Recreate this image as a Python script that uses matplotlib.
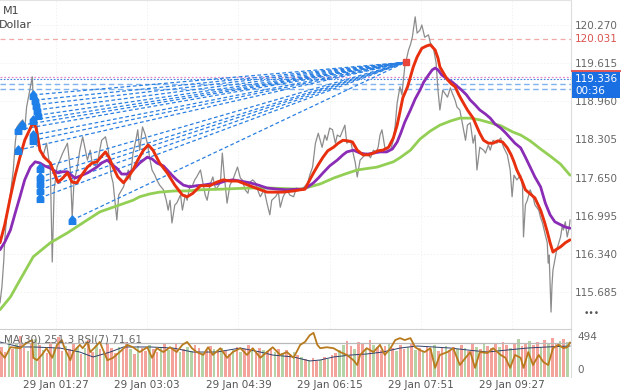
import numpy as np
import matplotlib
matplotlib.use("Agg")
import matplotlib.pyplot as plt
from matplotlib.path import Path
from matplotlib.patches import Rectangle
from matplotlib.lines import Line2D
import matplotlib.transforms as mtrans

# ---------------- data (time in minutes after 29 Jan 00:00, price in JPY) -------------
price_ticks = [120.270, 119.615, 118.960, 118.305, 117.650, 116.995, 116.340, 115.685]
time_ticks = [87, 183, 279, 375, 471, 567]
time_labels = ["29 Jan 01:27", "29 Jan 03:03", "29 Jan 04:39",
               "29 Jan 06:15", "29 Jan 07:51", "29 Jan 09:27"]

gray_t = [28, 30, 32, 33, 35, 39, 42, 44, 46, 49, 52, 54, 56, 60, 62, 63, 65, 67, 70, 73,
          77, 81, 83, 85, 88, 91, 94, 99, 102, 104, 106, 109, 112, 115, 120, 123, 125, 130, 133, 135,
          139, 142, 145, 147, 151, 153, 158, 163, 165, 168, 171, 173, 175, 178, 181, 183, 186, 188, 191, 193,
          196, 200, 203, 205, 207, 209, 212, 214, 218, 220, 223, 225, 228, 230, 233, 235, 239, 242, 244, 246,
          249, 252, 255, 260, 262, 264, 267, 270, 273, 278, 281, 283, 286, 289, 291, 294, 297, 300, 302, 306,
          309, 312, 314, 318, 321, 323, 326, 330, 333, 337, 340, 342, 347, 350, 352, 354, 357, 360, 363, 365,
          367, 370, 372, 375, 378, 381, 383, 386, 389, 391, 393, 397, 399, 402, 404, 407, 410, 414, 418, 421,
          424, 426, 428, 430, 433, 435, 439, 442, 444, 446, 449, 451, 454, 458, 460, 462, 465, 467, 470, 472,
          475, 479, 481, 484, 487, 489, 491, 494, 499, 502, 504, 507, 509, 512, 514, 518, 520, 523, 526, 528,
          530, 533, 537, 539, 542, 544, 547, 551, 555, 558, 562, 565, 567, 569, 572, 576, 578, 579, 581, 583,
          586, 589, 591, 595, 597, 599, 602, 604, 605, 606, 607, 608, 609, 610, 612, 614, 618, 620, 621, 623,
          625, 627, 628]
gray_p = [115.50, 115.77, 116.23, 116.58, 116.97, 117.38, 117.78, 118.24, 118.52, 118.59, 118.64, 118.47, 118.86, 119.21, 119.38, 118.98, 118.93, 118.52, 118.17, 118.00,
          118.24, 117.78, 116.20, 117.44, 117.83, 117.95, 118.07, 118.24, 117.78, 116.97, 117.61, 117.78, 118.12, 118.35, 117.95, 118.12, 117.90, 117.83, 118.12, 118.29,
          118.35, 118.12, 117.69, 117.56, 116.92, 117.35, 117.49, 117.78, 117.61, 118.07, 118.29, 118.47, 118.12, 118.52, 118.38, 118.24, 117.95, 117.78, 117.69, 117.61,
          117.52, 117.44, 117.26, 117.09, 117.26, 116.87, 117.18, 117.21, 117.35, 117.09, 117.35, 117.26, 117.52, 117.49, 117.61, 117.66, 117.78, 117.52, 117.35, 117.26,
          117.52, 117.66, 117.44, 117.56, 118.07, 117.69, 117.21, 117.52, 117.61, 117.83, 117.64, 117.61, 117.44, 117.38, 117.57, 117.61, 117.56, 117.40, 117.32, 117.44,
          117.21, 117.01, 117.26, 117.32, 117.40, 117.14, 117.32, 117.44, 117.35, 117.32, 117.47, 117.44, 117.47, 117.52, 117.56, 117.69, 117.83, 118.24, 118.41, 118.29,
          118.17, 118.38, 118.29, 118.50, 118.47, 118.24, 118.38, 118.35, 118.47, 118.55, 118.24, 118.29, 118.12, 117.90, 117.66, 117.95, 118.00, 118.07, 117.99, 118.12,
          118.09, 118.17, 118.38, 118.47, 118.17, 118.12, 118.12, 118.29, 118.55, 118.93, 119.21, 119.07, 119.55, 119.84, 119.93, 120.06, 120.41, 120.13, 120.18, 120.27,
          120.06, 120.10, 119.96, 119.89, 119.62, 119.15, 118.81, 119.15, 119.03, 119.19, 119.10, 118.98, 118.86, 118.81, 118.64, 118.29, 118.55, 118.59, 118.24, 118.38,
          117.78, 118.17, 118.12, 118.07, 118.21, 118.12, 118.29, 118.24, 118.33, 118.17, 118.04, 117.78, 117.32, 117.69, 117.61, 117.69, 117.49, 116.63, 117.18, 117.26,
          117.44, 117.32, 117.18, 117.09, 116.96, 116.87, 116.66, 116.53, 116.18, 116.32, 115.84, 115.34, 115.80, 116.06, 116.23, 116.41, 116.63, 116.84, 116.75, 116.89,
          116.63, 116.78, 116.92]

red_t = [28, 33, 39, 44, 49, 54, 60, 63, 66, 70, 75, 81, 86, 89, 94, 99, 104, 109, 114, 120,
         125, 130, 134, 139, 143, 147, 152, 158, 163, 168, 173, 179, 184, 189, 196, 204, 212, 220, 225, 231,
         239, 249, 256, 263, 270, 278, 286, 294, 302, 309, 318, 326, 337, 344, 349, 354, 358, 363, 368, 373,
         379, 384, 389, 394, 399, 404, 410, 416, 421, 426, 431, 437, 442, 446, 449, 452, 457, 460, 463, 467,
         472, 477, 481, 486, 489, 491, 496, 499, 503, 507, 511, 514, 520, 526, 530, 533, 537, 542, 547, 552,
         557, 562, 566, 569, 572, 577, 581, 586, 591, 597, 601, 604, 607, 610, 613, 618, 623, 628]
red_p = [116.53, 116.84, 117.32, 117.69, 118.00, 118.29, 118.50, 118.60, 118.50, 118.12, 117.99, 117.90, 117.69, 117.57, 117.64, 117.73, 117.57, 117.56, 117.69, 117.83,
         117.90, 117.92, 118.00, 118.09, 117.99, 117.83, 117.66, 117.56, 117.66, 117.78, 117.95, 118.12, 118.21, 118.12, 117.90, 117.73, 117.52, 117.35, 117.32, 117.38,
         117.51, 117.51, 117.57, 117.61, 117.59, 117.59, 117.54, 117.49, 117.44, 117.40, 117.40, 117.40, 117.42, 117.44, 117.45, 117.61, 117.73, 117.87, 118.00, 118.11,
         118.17, 118.24, 118.29, 118.28, 118.26, 118.12, 118.04, 118.04, 118.07, 118.11, 118.12, 118.17, 118.33, 118.55, 118.78, 119.02, 119.21, 119.38, 119.55, 119.72,
         119.87, 119.91, 119.93, 119.84, 119.70, 119.55, 119.41, 119.33, 119.26, 119.21, 119.07, 118.98, 118.81, 118.67, 118.52, 118.41, 118.29, 118.24, 118.24, 118.28,
         118.26, 118.16, 118.04, 117.92, 117.78, 117.61, 117.44, 117.37, 117.30, 117.09, 116.89, 116.72, 116.53, 116.37, 116.41, 116.46, 116.53, 116.58]

purple_t = [28, 33, 39, 44, 49, 54, 60, 65, 70, 75, 81, 89, 94, 99, 107, 113, 120, 125, 130, 135,
            141, 146, 151, 156, 162, 168, 175, 183, 188, 193, 200, 204, 209, 214, 221, 228, 235, 242, 249, 256,
            265, 273, 281, 291, 300, 309, 320, 330, 341, 347, 352, 358, 363, 368, 375, 383, 389, 393, 400, 407,
            414, 421, 428, 435, 441, 446, 450, 454, 460, 465, 470, 474, 479, 483, 486, 489, 493, 499, 504, 509,
            514, 519, 523, 528, 533, 539, 544, 549, 555, 560, 565, 570, 576, 581, 586, 591, 597, 602, 607, 612,
            618, 623, 628]
purple_p = [116.41, 116.54, 116.75, 117.04, 117.32, 117.61, 117.83, 117.92, 117.90, 117.85, 117.81, 117.73, 117.75, 117.75, 117.64, 117.68, 117.73, 117.78, 117.83, 117.90,
            117.95, 117.87, 117.81, 117.71, 117.71, 117.78, 117.90, 118.00, 117.97, 117.90, 117.85, 117.78, 117.69, 117.61, 117.52, 117.49, 117.51, 117.52, 117.54, 117.54,
            117.59, 117.61, 117.59, 117.56, 117.52, 117.47, 117.45, 117.44, 117.45, 117.45, 117.49, 117.56, 117.64, 117.73, 117.85, 117.95, 118.04, 118.09, 118.12, 118.07,
            118.05, 118.07, 118.09, 118.09, 118.14, 118.26, 118.42, 118.60, 118.81, 119.00, 119.15, 119.29, 119.41, 119.50, 119.53, 119.50, 119.41, 119.34, 119.29, 119.22,
            119.15, 119.07, 118.98, 118.90, 118.81, 118.74, 118.67, 118.57, 118.50, 118.42, 118.33, 118.24, 118.16, 118.00, 117.83, 117.66, 117.49, 117.21, 117.01, 116.89,
            116.84, 116.80, 116.78]

green_t = [28, 39, 49, 63, 81, 99, 115, 133, 147, 154, 168, 175, 186, 196, 212, 225, 239, 260, 291, 312,
           344, 354, 365, 379, 391, 404, 425, 442, 449, 460, 470, 481, 491, 502, 512, 523, 533, 544, 555, 568,
           576, 586, 597, 607, 618, 628]
green_p = [115.38, 115.60, 115.89, 116.29, 116.53, 116.70, 116.87, 117.06, 117.14, 117.18, 117.26, 117.32, 117.37, 117.40, 117.42, 117.42, 117.44, 117.45, 117.47, 117.47,
           117.45, 117.49, 117.54, 117.64, 117.71, 117.78, 117.83, 117.92, 117.99, 118.12, 118.31, 118.45, 118.55, 118.62, 118.67, 118.67, 118.64, 118.59, 118.54, 118.43,
           118.38, 118.28, 118.14, 118.02, 117.88, 117.69]

# trade lines: entries (buy arrows) and common exit
entry_t = [63, 65, 66, 67, 68, 63, 51, 47, 63, 63, 47, 70, 70, 70, 70, 70, 104]
entry_p = [119.07, 118.98, 118.90, 118.81, 118.72, 118.64, 118.55, 118.47, 118.38, 118.29, 118.12,
           117.81, 117.66, 117.56, 117.44, 117.30, 116.92]
exit_t = 455
exit_p = 119.63

level_tp = 120.031      # red dashed level
level_ask = 119.38      # pink dotted
level_bid = 119.336     # blue dotted (current price)
level_blue = [119.26, 119.17]

# lower panel
vol_step = 4
vol = [310, 260, 380, 290, 340, 420, 300, 270, 350, 390,
       330, 280, 250, 360, 300, 410, 270, 320, 290, 350,
       310, 240, 300, 380, 260, 330, 290, 270, 340, 300,
       250, 310, 280, 360, 290, 240, 320, 300, 270, 330,
       290, 260, 310, 350, 280, 300, 340, 260, 290, 310,
       270, 330, 300, 250, 280, 320, 290, 260, 300, 270,
       240, 280, 310, 260, 290, 330, 270, 250, 300, 280,
       270, 300, 260, 290, 250, 280, 240, 260, 230, 210,
       190, 170, 200, 160, 180, 210, 190, 230, 250, 280,
       330, 370, 320, 290, 360, 340, 300, 380, 330, 310,
       280, 320, 350, 300, 270, 330, 290, 310, 340, 280,
       300, 260, 310, 290, 330, 270, 300, 320, 280, 310,
       290, 330, 300, 270, 340, 310, 290, 350, 320, 300,
       340, 310, 360, 330, 300, 350, 390, 320, 340, 370,
       330, 360, 310, 380, 350, 400, 340, 370, 390, 360]
vol_dir = ("rrgrgrrgrg" "rgrrgrrgrr" "grgrrgrgrr" "rgrrgrgrrg" "rrgrgrrgrg"
           "grrgrrgrgr" "rgrgrrgrrg" "rrgrgrrgrg" "rgrrgrgrrg" "grrgrrgrgr"
           "rrgrgrrgrg" "rgrrgrrgrr" "grgrrgrgrr" "rgrrgrgrrg" "rrgrgrrgrg")

vma_t = [28, 49, 63, 91, 112, 126, 144, 158, 186, 210, 231, 256, 281, 302, 315, 337, 354, 365, 379, 397,
         414, 431, 449, 467, 484, 502, 520, 541, 562, 583, 604, 628]
vma_v = [360, 309, 309, 298, 257, 206, 257, 309, 309, 298, 257, 257, 298, 257, 226, 206, 165, 175, 206, 226,
         237, 257, 298, 319, 309, 298, 278, 257, 278, 298, 309, 319]

rsi_t = [28, 33, 39, 49, 56, 62, 63, 67, 72, 77, 83, 88, 93, 96, 102, 105, 112, 115, 120, 123,
         128, 133, 141, 147, 154, 162, 168, 175, 183, 188, 193, 200, 207, 214, 220, 225, 230, 235, 242, 247,
         252, 260, 267, 273, 281, 288, 294, 302, 309, 315, 323, 330, 337, 344, 349, 354, 358, 362, 365, 372,
         379, 386, 393, 400, 404, 407, 414, 421, 428, 433, 439, 444, 449, 454, 460, 465, 470, 475, 481, 486,
         491, 499, 505, 512, 518, 523, 528, 533, 541, 547, 555, 560, 565, 570, 576, 579, 584, 589, 595, 600,
         605, 610, 616, 621, 625, 628]
rsi_v = [52, 40, 62, 60, 71, 77, 40, 35, 46, 60, 40, 67, 77, 60, 35, 52, 67, 60, 73, 52,
         62, 73, 35, 40, 52, 67, 62, 52, 62, 40, 60, 52, 62, 52, 67, 73, 60, 52, 46, 62,
         46, 60, 40, 52, 60, 46, 60, 40, 52, 62, 46, 52, 40, 67, 73, 87, 92, 67, 60, 62,
         60, 52, 46, 35, 25, 46, 60, 52, 67, 46, 60, 77, 81, 77, 81, 62, 56, 52, 60, 19,
         46, 52, 60, 25, 40, 52, 19, 52, 50, 60, 46, 40, 19, 46, 40, 19, 52, 25, 46, 31,
         25, 60, 67, 60, 62, 71.61]

# ---------------- figure ----------------
W, H = 625, 392
fig = plt.figure(figsize=(W / 100, H / 100), dpi=100)
fig.patch.set_facecolor("white")
plt.rcParams["font.family"] = ["DejaVu Sans"]

ymin, ymax = 115.049, 120.699
xmin, xmax = 28, 629
ax = fig.add_axes([0, 1 - 329 / H, 571 / W, 329 / H])
ax.set_xlim(xmin, xmax)
ax.set_ylim(ymin, ymax)
ax.set_facecolor("white")
for s in ["left", "bottom"]:
    ax.spines[s].set_visible(False)
ax.spines["top"].set_color("#e3e3e3")
ax.spines["right"].set_color("#dcdcdc")
ax.spines["right"].set_linewidth(0.8)
ax.yaxis.tick_right()
ax.set_yticks(price_ticks)
ax.set_yticklabels([f"{v:.3f}" for v in price_ticks])
ax.tick_params(axis="y", length=0, pad=3, labelsize=7.5, labelcolor="#666666")
ax.set_xticks(time_ticks)
ax.tick_params(axis="x", length=0, labelbottom=False)
ax.grid(True, color="#f1f1f1", linewidth=0.6, linestyle=(0, (2, 2)))
ax.set_axisbelow(True)

# horizontal levels
ax.axhline(level_tp, color="#f0a8a8", lw=0.9, ls=(0, (4, 3)), zorder=1)
ax.axhline(level_ask, color="#e58ac8", lw=0.9, ls=(0, (1.5, 1.5)), zorder=1)
ax.axhline(level_bid, color="#3d85e0", lw=0.8, ls=(0, (1.5, 1.5)), zorder=1)
for lv in level_blue:
    ax.axhline(lv, color="#7fb2ee", lw=1.0, ls=(0, (4, 2.5)), zorder=1)

# price and MAs
ax.plot(gray_t, gray_p, color="#8c8c8c", lw=0.9, zorder=2)
ax.plot(green_t, green_p, color="#93cf55", lw=2.0, zorder=3, solid_capstyle="round")
for et, ep in zip(entry_t, entry_p):
    ax.plot([et, exit_t], [ep, exit_p], color="#2a7fe2", lw=0.9, ls=(0, (3, 2)), zorder=3.5)
ax.plot(purple_t, purple_p, color="#8a2cb5", lw=2.0, zorder=4, solid_capstyle="round")
ax.plot(red_t, red_p, color="#e8300f", lw=2.1, zorder=5, solid_capstyle="round")

house = Path([(-0.5, -0.6), (0.5, -0.6), (0.5, 0.1), (0.0, 0.7), (-0.5, 0.1), (-0.5, -0.6)],
             [Path.MOVETO, Path.LINETO, Path.LINETO, Path.LINETO, Path.LINETO, Path.CLOSEPOLY])
ax.plot(entry_t, entry_p, ls="none", marker=house, ms=6.5, color="#1f7fe8", zorder=6)
ax.plot([exit_t], [exit_p], ls="none", marker="s", ms=4.5, color="#e8453c", zorder=6)

blend = mtrans.blended_transform_factory(ax.transAxes, ax.transData)
ax.text(1 + 3.5 / 571, level_tp, f"{level_tp:.3f}", transform=blend, color="#d9534f",
        fontsize=7.5, va="center", ha="left", clip_on=False)

# current price box
fig.add_artist(Rectangle((572 / W, 1 - 98 / H), 48 / W, 27 / H, transform=fig.transFigure,
                         facecolor="#1a6fe3", edgecolor="none", zorder=10))
fig.add_artist(Line2D([572 / W, 620 / W], [1 - 71 / H, 1 - 71 / H], transform=fig.transFigure,
                      color="#e25757", lw=1.4, zorder=11))
fig.text(575 / W, 1 - 79.5 / H, f"{level_bid:.3f}", color="white", fontsize=7.5, va="center", zorder=12)
fig.text(575 / W, 1 - 91 / H, "00:36", color="white", fontsize=7.5, va="center", zorder=12)
fig.text(584 / W, 1 - 313 / H, "•••", color="#555555", fontsize=6.5, va="center")

fig.text(3 / W, 1 - 11 / H, "M1", color="#444444", fontsize=8, va="center")
fig.text(-1 / W, 1 - 25 / H, "Dollar", color="#444444", fontsize=8, va="center")

# ---------------- lower panel ----------------
ax2 = fig.add_axes([0, 15 / H, 571 / W, 48 / H])
ax2.set_xlim(xmin, xmax)
ax2.set_ylim(0, 494)
for s in ["left", "bottom"]:
    ax2.spines[s].set_visible(False)
ax2.spines["top"].set_color("#cfcfcf")
ax2.spines["right"].set_color("#dcdcdc")
ax2.set_yticks([])
ax2.set_xticks(time_ticks)
ax2.set_xticklabels(time_labels)
ax2.tick_params(axis="x", length=0, pad=2.5, labelsize=7.5, labelcolor="#555555")
vol_t = np.arange(len(vol)) * vol_step + xmin
colors = ["#f4a39c" if c == "r" else "#b4d3a6" for c in vol_dir]
ax2.bar(vol_t, vol, width=2.8, color=colors, align="edge", zorder=1)
ax2.plot(vma_t, vma_v, color="#2d3f6b", lw=0.7, zorder=3)

ax3 = ax2.twinx()
ax3.set_ylim(0, 100)
ax3.set_xlim(xmin, xmax)
ax3.set_yticks([])
for s in ax3.spines.values():
    s.set_visible(False)
ax3.axhline(70, color="#b9b9b9", lw=0.9, zorder=2)
ax3.plot(rsi_t, rsi_v, color="#b87a1c", lw=1.3, zorder=4)

fig.text(4 / W, 1 - 339 / H, "MA(30) 251.3 RSI(7) 71.61", color="#666666", fontsize=7.5, va="center")
fig.text(577 / W, 1 - 337 / H, "494", color="#666666", fontsize=7.5, va="center")
fig.text(577 / W, 1 - 370 / H, "0", color="#666666", fontsize=7.5, va="center")

fig.savefig("out.png", dpi=100)
